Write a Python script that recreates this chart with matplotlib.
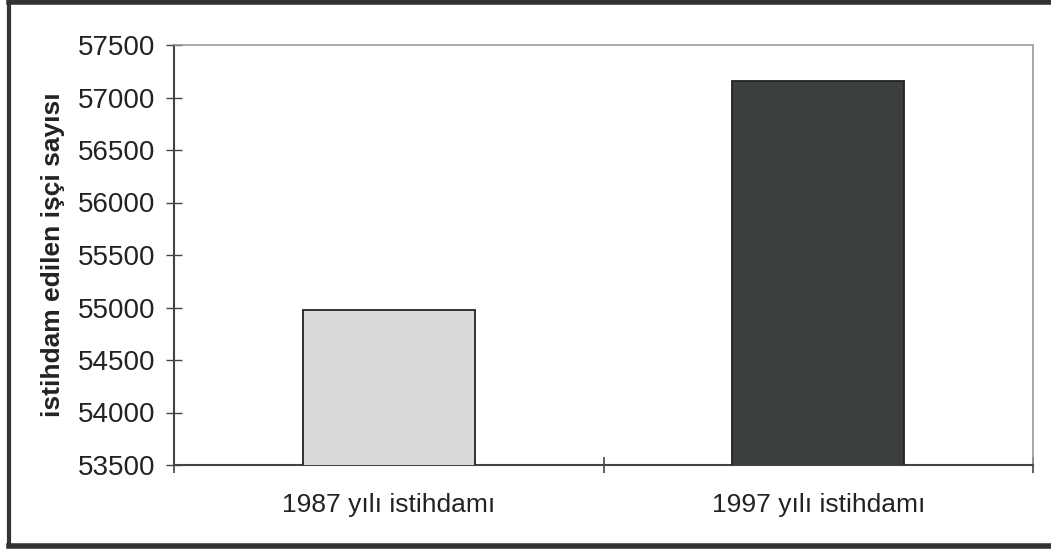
import matplotlib
matplotlib.use("Agg")
import matplotlib.pyplot as plt
from matplotlib.lines import Line2D

# Data
categories = ["1987 yılı istihdamı", "1997 yılı istihdamı"]
workers = [54980, 57160]
bar_colors = ["#d9d9d9", "#3b403f"]
y_ticks = [53500, 54000, 54500, 55000, 55500, 56000, 56500, 57000, 57500]

plt.rcParams['font.family'] = ['Liberation Sans', 'DejaVu Sans']

fig = plt.figure(figsize=(10.51, 5.51), dpi=100)
ax = fig.add_axes([174 / 1051, 1 - 465 / 551, (1033 - 174) / 1051, (465 - 45) / 551])

x = list(range(len(categories)))
ax.bar(x, workers, width=0.40, color=bar_colors, edgecolor="#222222", linewidth=1.3, zorder=3)

ax.set_xlim(-0.5, 1.5)
ax.set_ylim(53500, 57500)
ax.set_yticks(y_ticks)
ax.set_yticklabels([str(v) for v in y_ticks], fontsize=20, color="#222222")
ax.set_xticks(x)
ax.set_xticklabels(categories, fontsize=19, color="#222222")
ax.tick_params(axis='x', which='major', length=0, pad=20)
ax.set_xticks([-0.5, 0.5, 1.5], minor=True)
ax.tick_params(axis='x', which='minor', direction='inout', length=12, width=1.2, color="#444444")
ax.tick_params(axis='y', direction='inout', length=11, width=1.0, color="#444444", pad=8)

ax.set_ylabel("istihdam edilen işçi sayısı", fontsize=19, fontweight='bold', color="#222222", labelpad=9)

for side in ['left', 'bottom']:
    ax.spines[side].set_color("#444444")
    ax.spines[side].set_linewidth(1.5)
for side in ['top', 'right']:
    ax.spines[side].set_color("#999999")
    ax.spines[side].set_linewidth(1.2)
    ax.spines[side].set_linestyle((0, (2, 1)))

# Dark frame around the chart (top, left, bottom)
fig.add_artist(Line2D([9 / 1051, 1], [1 - 2 / 551, 1 - 2 / 551], color="#333333", linewidth=4))
fig.add_artist(Line2D([9 / 1051, 9 / 1051], [1 - 546 / 551, 1 - 2 / 551], color="#333333", linewidth=3))
fig.add_artist(Line2D([9 / 1051, 1], [1 - 546 / 551, 1 - 546 / 551], color="#333333", linewidth=4))

fig.savefig("out.png", dpi=100)
